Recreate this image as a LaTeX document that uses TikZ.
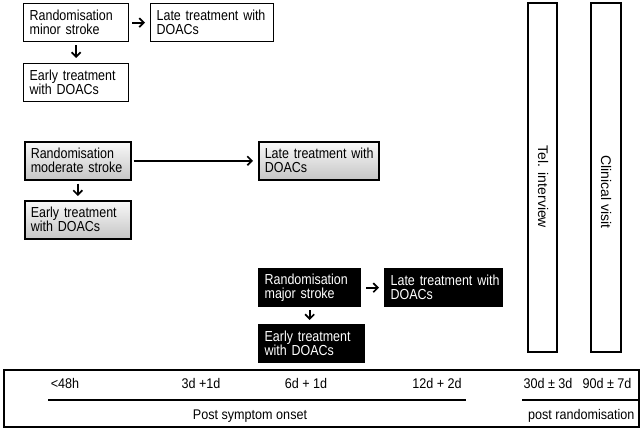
\documentclass[tikz,border=0pt]{standalone}
\usepackage{fontspec}
\setmainfont{Liberation Sans}
\newfontfamily\boxfont{Liberation Sans}[FakeStretch=0.86]
\newfontfamily\axisfont{Liberation Sans}[FakeStretch=0.9]
\usetikzlibrary{arrows.meta}
\begin{document}
\begin{tikzpicture}[x=1pt,y=-1pt,
  bx/.style={draw, line width=1.3pt, anchor=north west, inner xsep=6pt, inner ysep=0pt,
    align=left, font=\boxfont\fontsize{14.5}{14}\selectfont, minimum height=38pt, text width=#1},
  bx/.default=93pt,
  grey/.style={top color=gray!5, bottom color=gray!45, line width=1.6pt},
  blk/.style={fill=black, text=white},
  arr/.style={-{Straight Barb[length=4.5pt,width=9pt,line width=1.7pt]}, line width=1.9pt},
  tl/.style={font=\axisfont\fontsize{14}{15}\selectfont},
  vbox/.style={draw, line width=1.3pt},
  tline/.style={line width=1.8pt}]
\useasboundingbox (0,0) rectangle (644,430);
% minor stroke
\node[bx] (r1) at (23,3) {\mbox{Randomisation}\\\mbox{minor stroke}};
\node[bx=111pt] (l1) at (150,3) {\mbox{Late treatment with}\\\mbox{DOACs}};
\node[bx] (e1) at (23,63) {\mbox{Early treatment}\\\mbox{with DOACs}};
\draw[arr, shorten <=3pt, shorten >=5pt] (r1.east) -- (l1.west);
\draw[arr, shorten <=3pt, shorten >=5pt] (r1.south) -- (e1.north);
% moderate stroke
\node[bx=94pt, grey] (r2) at (24,141) {\mbox{Randomisation}\\\mbox{moderate stroke}};
\node[bx=108pt, grey] (l2) at (258,141) {\mbox{Late treatment with}\\\mbox{DOACs}};
\node[bx=94pt, grey] (e2) at (24,200) {\mbox{Early treatment}\\\mbox{with DOACs}};
\draw[arr, shorten <=2pt, shorten >=5pt] (r2.east) -- (l2.west);
\draw[arr, shorten <=3pt, shorten >=4pt] (r2.south) -- (e2.north);
% major stroke
\node[bx=90pt, blk] (r3) at (258,268) {\mbox{Randomisation}\\\mbox{major stroke}};
\node[bx=106pt, blk] (l3) at (384,268) {\mbox{Late treatment with}\\\mbox{DOACs}};
\node[bx=94pt, blk] (e3) at (258,324) {\mbox{Early treatment}\\\mbox{with DOACs}};
\draw[arr, shorten <=5pt, shorten >=5pt] (r3.east) -- (l3.west);
\draw[arr, shorten <=3pt, shorten >=4pt] (r3.south) -- (r3.south |- e3.north);
% vertical boxes
\draw[vbox] (528,3) rectangle (557,352);
\draw[vbox] (591,3) rectangle (621,352);
\node[rotate=-90, font=\fontsize{14}{15}\selectfont] (tel) at (543,187) {Tel. interview};
\node[rotate=-90, font=\fontsize{14}{15}\selectfont] (cv) at (606,192) {Clinical visit};
% timeline box
\draw[line width=1.3pt] (4,370) rectangle (639,427);
\node[tl] (t1) at (65,383) {<48h};
\node[tl] (t2) at (201,383) {3d +1d};
\node[tl] (t3) at (306,383) {6d + 1d};
\node[tl] (t4) at (437,383) {12d + 2d};
\node[tl] (t5) at (548,383) {30d ± 3d};
\node[tl] (t6) at (607,383) {90d ± 7d};
\draw[tline] (48,400) -- (466,400);
\draw[tline] (522,400) -- (638,400);
\node[tl] (ps) at (250,416) {Post symptom onset};
\node[tl, anchor=east] (pr) at (638,416) {post randomisation};
\end{tikzpicture}
\end{document}
